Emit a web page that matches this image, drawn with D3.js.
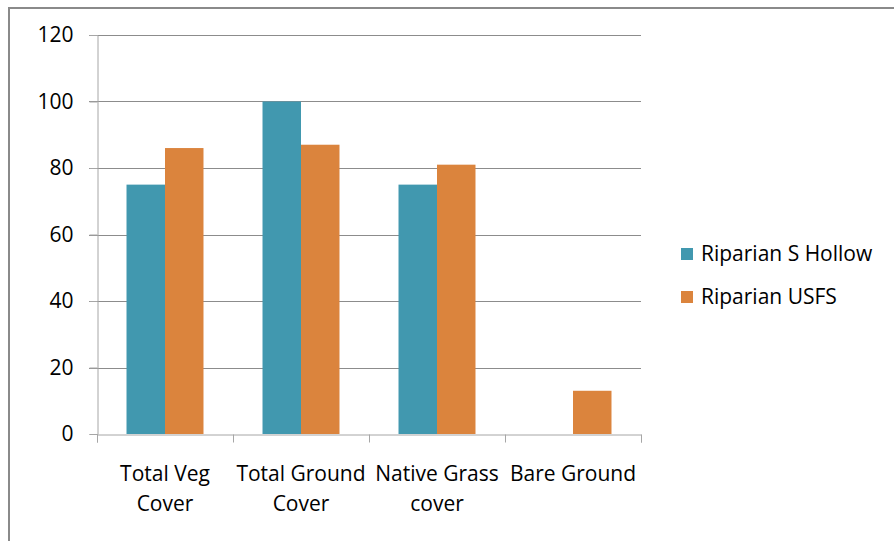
<!DOCTYPE html>
<html>
<head>
<meta charset="utf-8">
<script src="https://cdn.jsdelivr.net/npm/d3@7"></script>
<style>
  html, body { margin: 0; padding: 0; background: #fff; }
  svg { display: block; }
  text { font-family: "Open Sans", "Liberation Sans", Arial, sans-serif; fill: #000; }
</style>
</head>
<body>
<svg id="chart" width="894" height="541"></svg>
<script>
const categories = [["Total Veg", "Cover"], ["Total Ground", "Cover"], ["Native Grass", "cover"], ["Bare Ground"]];
const seriesNames = ["Riparian S Hollow", "Riparian USFS"];
const sHollow = [75, 100, 75, 0];
const usfs = [86, 87, 81, 13];
const yTicks = [0, 20, 40, 60, 80, 100, 120];
const colors = ["#4198af", "#db843d"];

const FONT = "Open Sans, Liberation Sans, Arial, sans-serif";
const FS = 21;
const svg = d3.select("#chart");
const m = { left: 97, right: 641, top: 35, bottom: 434 };

// outer frame (top & left edges visible)
svg.append("line").attr("x1", 8).attr("x2", 894).attr("y1", 8).attr("y2", 8)
  .attr("stroke", "#8a8a8a").attr("stroke-width", 2);
svg.append("line").attr("x1", 9).attr("x2", 9).attr("y1", 8).attr("y2", 541)
  .attr("stroke", "#8a8a8a").attr("stroke-width", 2);

const idx = d3.range(categories.length);
const x = d3.scaleBand().domain(idx).range([m.left, m.right]).paddingInner(0.434).paddingOuter(0.217);
const xSub = d3.scaleBand().domain([0, 1]).range([0, x.bandwidth()]);
const y = d3.scaleLinear().domain([0, 120]).range([m.bottom, m.top]);

// gridlines
svg.append("g").selectAll("line").data(yTicks.filter(t => t > 0)).join("line")
  .attr("x1", m.left - 8).attr("x2", m.right)
  .attr("y1", d => Math.round(y(d)) + 0.5).attr("y2", d => Math.round(y(d)) + 0.5)
  .attr("stroke", "#8c8c8c").attr("stroke-width", 1);

// y axis
const yAxis = d3.axisLeft(y).tickValues(yTicks).tickSize(8).tickPadding(16);
const gy = svg.append("g").attr("transform", `translate(${m.left + 0.5},0)`).call(yAxis);
gy.select(".domain").attr("stroke", "#a6a6a6");
gy.selectAll(".tick line").attr("stroke", "#a6a6a6");
gy.selectAll(".tick text").attr("font-size", FS).attr("font-family", FONT).attr("fill", "#000");

// bars
const series = [sHollow, usfs];
series.forEach((vals, s) => {
  svg.append("g").selectAll("rect").data(vals).join("rect")
    .attr("x", (d, i) => x(i) + xSub(s))
    .attr("width", xSub.bandwidth())
    .attr("y", d => y(d))
    .attr("height", d => y(0) - y(d))
    .attr("fill", colors[s]);
});

// x axis
const xPos = d3.scaleLinear().domain([0, categories.length]).range([m.left, m.right]);
const gx = svg.append("g").attr("transform", `translate(0,${m.bottom + 0.5})`)
  .call(d3.axisBottom(xPos).tickValues(d3.range(categories.length + 1)).tickSize(8).tickFormat(""));
gx.select(".domain").attr("stroke", "#a6a6a6");
gx.selectAll(".tick line").attr("stroke", "#a6a6a6");

// category labels
const lab = svg.append("g").selectAll("text").data(categories).join("text")
  .attr("text-anchor", "middle").attr("font-size", FS)
  .attr("x", (d, i) => x(i) + x.bandwidth() / 2)
  .attr("y", 481);
lab.selectAll("tspan").data(d => d).join("tspan")
  .attr("x", function () { return d3.select(this.parentNode).attr("x"); })
  .attr("dy", (d, i) => i === 0 ? 0 : 30)
  .text(d => d);

// legend
const lg = svg.append("g").selectAll("g").data(seriesNames).join("g")
  .attr("transform", (d, i) => `translate(681,${248 + i * 43})`);
lg.append("rect").attr("width", 12).attr("height", 12).attr("fill", (d, i) => colors[i]);
lg.append("text").attr("x", 20).attr("y", 13).attr("font-size", FS).text(d => d);
</script>
</body>
</html>
